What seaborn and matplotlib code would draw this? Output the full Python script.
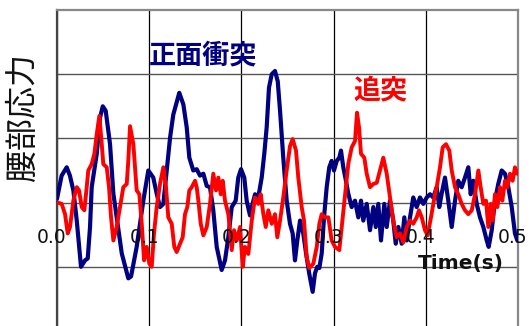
import matplotlib
matplotlib.use("Agg")
import matplotlib.pyplot as plt
import matplotlib.transforms as mtransforms
import seaborn as sns
import pandas as pd

# Time (s) and lumbar stress for the frontal-impact case
frontal_t = [0.000, 0.005, 0.0105, 0.014, 0.0177, 0.0214, 0.026, 0.0304, 0.0333, 0.0358,
             0.0376, 0.0431, 0.0466, 0.0496, 0.0528, 0.0575, 0.0611, 0.0647, 0.0702, 0.0773,
             0.0803, 0.0864, 0.0936, 0.099, 0.1044, 0.1081, 0.1117, 0.1153, 0.119, 0.1226,
             0.1261, 0.1326, 0.137, 0.1407, 0.1435, 0.1478, 0.1515, 0.1551, 0.1587, 0.1624,
             0.1659, 0.1695, 0.1732, 0.1786, 0.1822, 0.1858, 0.1895, 0.1938, 0.1966, 0.1996,
             0.2031, 0.2057, 0.2093, 0.2112, 0.2148, 0.2183, 0.222, 0.2248, 0.2274, 0.2299,
             0.2329, 0.2364, 0.2394, 0.2419, 0.2454, 0.2491, 0.2527, 0.2556, 0.2581, 0.2606,
             0.2636, 0.2671, 0.2701, 0.2736, 0.2773, 0.2798, 0.2823, 0.2845, 0.2871, 0.2896,
             0.2925, 0.2953, 0.2979, 0.3004, 0.3034, 0.3062, 0.308, 0.3105, 0.3134, 0.3159,
             0.3196, 0.3232, 0.3268, 0.3297, 0.3322, 0.3359, 0.3395, 0.3431, 0.3457, 0.3485,
             0.3514, 0.355, 0.3576, 0.3612, 0.3647, 0.3674, 0.3702, 0.3739, 0.3767, 0.3793,
             0.3829, 0.3864, 0.3901, 0.3937, 0.3973, 0.401, 0.4046, 0.4081, 0.4118, 0.4146,
             0.4172, 0.4208, 0.4244, 0.4281, 0.4317, 0.4352, 0.4389, 0.4425, 0.4461, 0.4487,
             0.4515, 0.4552, 0.4588, 0.4624, 0.4661, 0.4682, 0.4715, 0.475, 0.4786, 0.4823,
             0.4859, 0.4895, 0.4932, 0.4967, 0.4993]
frontal_s = [0.06, 0.42, 0.55, 0.42, 0.19, -0.28, -1.00, -0.90, -0.87, -0.38,
             0.24, 0.76, 1.32, 1.50, 1.43, 0.91, 0.14, -0.23, -0.79, -1.18,
             -1.15, -0.69, 0.03, 0.50, 0.39, 0.14, -0.07, -0.02, 0.50, 1.01,
             1.37, 1.71, 1.53, 1.17, 0.70, 0.50, 0.52, 0.42, 0.45, 0.26,
             0.24, -0.12, -0.69, -1.05, -0.90, -0.54, -0.07, 0.03, 0.39, 0.52,
             0.39, 0.03, -0.20, -0.07, 0.13, 0.08, 0.39, 0.76, 1.17, 1.79,
             2.00, 2.05, 1.89, 1.43, 0.70, 0.03, -0.33, -0.48, -0.90, -0.59,
             -0.28, -0.48, -0.79, -1.11, -1.39, -1.10, -1.00, -1.02, -0.79, -0.23,
             0.24, 0.55, 0.65, 0.50, 0.65, 0.70, 0.81, 0.55, 0.34, 0.14,
             -0.07, 0.03, -0.23, 0.03, -0.28, -0.02, -0.43, -0.07, -0.38, -0.02,
             -0.59, -0.02, -0.38, 0.03, -0.28, -0.64, -0.38, -0.64, -0.23, -0.59,
             -0.23, 0.08, -0.07, 0.08, -0.02, 0.08, 0.13, 0.08, 0.24, -0.07,
             0.14, 0.39, 0.03, -0.38, 0.03, 0.34, 0.24, 0.39, 0.55, 0.13,
             0.34, -0.02, -0.23, -0.38, -0.59, -0.69, -0.43, 0.03, 0.29, 0.50,
             0.45, 0.24, -0.07, -0.48, -0.59]

# Time (s) and lumbar stress for the rear-impact case
rear_t = [0.0008, 0.0051, 0.0087, 0.0116, 0.0141, 0.0177, 0.0214, 0.0239, 0.0268, 0.0296,
          0.0322, 0.0339, 0.0376, 0.0405, 0.0431, 0.0459, 0.0485, 0.0502, 0.0539, 0.0564,
          0.0586, 0.0611, 0.0647, 0.0683, 0.0719, 0.0756, 0.0773, 0.0792, 0.0828, 0.0864,
          0.0893, 0.0919, 0.0944, 0.0973, 0.1001, 0.1027, 0.1052, 0.1081, 0.1117, 0.1153,
          0.1182, 0.1207, 0.1244, 0.1272, 0.1298, 0.1334, 0.1363, 0.1388, 0.1413, 0.1435,
          0.1461, 0.1497, 0.1515, 0.1533, 0.1559, 0.1587, 0.1624, 0.1659, 0.1695, 0.1725,
          0.175, 0.1776, 0.1797, 0.1822, 0.1858, 0.1895, 0.192, 0.1949, 0.1985, 0.2014,
          0.2039, 0.2075, 0.2112, 0.2148, 0.2183, 0.2209, 0.2238, 0.2264, 0.2292, 0.2329,
          0.2364, 0.2389, 0.2419, 0.2454, 0.2491, 0.2527, 0.2556, 0.2592, 0.2617, 0.2654,
          0.2679, 0.2708, 0.2736, 0.278, 0.2817, 0.2845, 0.2871, 0.2907, 0.2943, 0.2979,
          0.3015, 0.3062, 0.3088, 0.3124, 0.3159, 0.3196, 0.3232, 0.3254, 0.3276, 0.3297,
          0.3333, 0.3359, 0.3395, 0.3431, 0.3468, 0.3503, 0.3539, 0.3576, 0.3612, 0.3647,
          0.3684, 0.372, 0.3756, 0.3793, 0.3829, 0.3864, 0.3901, 0.3926, 0.3956, 0.3991,
          0.402, 0.4056, 0.41, 0.4118, 0.4154, 0.4183, 0.4219, 0.4255, 0.4281, 0.4317,
          0.4352, 0.4389, 0.4425, 0.4461, 0.4498, 0.4534, 0.457, 0.4595, 0.4624, 0.4653,
          0.4678, 0.4704, 0.4726, 0.475, 0.4776, 0.4805, 0.483, 0.4859, 0.4884, 0.4913,
          0.4942, 0.4967, 0.4993]
rear_s = [0.00, -0.02, -0.18, -0.48, -0.38, 0.03, 0.24, 0.19, -0.07, -0.12,
          0.24, 0.50, 0.60, 0.76, 1.07, 1.35, 0.91, 0.60, 0.55, 0.24,
          -0.23, -0.59, -0.38, -0.07, 0.24, 0.29, 0.65, 1.19, 0.91, 0.19,
          0.13, -0.33, -0.90, -0.69, -0.95, -1.00, -0.48, -0.07, 0.29, 0.55,
          0.24, -0.23, -0.33, -0.69, -0.77, -0.64, -0.54, -0.18, -0.07, 0.19,
          0.24, 0.34, 0.24, 0.03, -0.33, -0.51, -0.38, -0.02, 0.45, 0.19,
          0.39, 0.13, 0.34, 0.03, -0.18, -0.74, -0.43, -0.59, -0.38, -1.00,
          -0.69, -0.80, -0.28, 0.08, -0.02, 0.13, -0.18, -0.38, -0.12, -0.33,
          -0.18, -0.54, -0.28, 0.08, 0.50, 0.88, 0.99, 0.81, 0.39, -0.07,
          -0.28, -0.85, -1.02, -0.95, -0.69, -0.33, -0.18, -0.23, -0.23, -0.59,
          -0.69, -0.74, -0.38, 0.13, 0.60, 0.86, 0.96, 1.40, 1.17, 0.76,
          0.70, 0.45, 0.24, 0.29, 0.31, 0.50, 0.70, 0.45, 0.08, -0.28,
          -0.54, -0.48, -0.62, -0.38, -0.28, -0.33, -0.23, -0.12, -0.23, -0.43,
          -0.51, -0.23, 0.13, 0.24, 0.55, 0.86, 0.91, 0.81, 0.50, 0.24,
          0.13, -0.02, -0.12, -0.18, -0.12, 0.13, 0.50, 0.24, -0.02, 0.03,
          -0.38, -0.02, -0.28, 0.13, -0.07, 0.24, 0.03, 0.34, 0.24, 0.45,
          0.34, 0.55, 0.45]

x_ticks = [0.0, 0.1, 0.2, 0.3, 0.4, 0.5]
x_tick_labels = ["0.0", "0.1", "0.2", "0.3", "0.4", "0.5"]
y_grid = [-1, 0, 1, 2]

y_label = "腰部応力"
x_label = "Time(s)"
frontal_name = "正面衝突"
rear_name = "追突"

NAVY = "#000080"
RED = "#FF0000"

sns.set_style("white")
plt.rcParams["font.family"] = ["Noto Sans CJK JP", "DejaVu Sans"]

fig = plt.figure(figsize=(5.29, 3.26), dpi=100)
ax = fig.add_axes([0.1078, -0.0153, 0.8714, 0.9846])

frontal = pd.DataFrame({"t": frontal_t, "s": frontal_s})
rear = pd.DataFrame({"t": rear_t, "s": rear_s})

sns.lineplot(data=frontal, x="t", y="s", color=NAVY, linewidth=3.0,
             estimator=None, sort=False, ax=ax, zorder=3)
sns.lineplot(data=rear, x="t", y="s", color=RED, linewidth=2.8,
             estimator=None, sort=False, ax=ax, zorder=4)

ax.set_xlim(0, 0.5)
ax.set_ylim(-2, 3)
ax.set_xticks(x_ticks)
ax.set_yticks(y_grid)
ax.set_xticklabels([])
ax.set_yticklabels([])
ax.tick_params(length=0)
ax.set_xlabel("")
ax.set_ylabel("")
ax.grid(True, axis="x", color="#000000", linewidth=0.9)
ax.grid(True, axis="y", color="#555555", linewidth=1.0)
ax.set_axisbelow(True)

for side in ("top", "right"):
    ax.spines[side].set_color("#888888")
    ax.spines[side].set_linewidth(1.6)
ax.spines["left"].set_color("#444444")
ax.spines["left"].set_linewidth(1.6)
ax.spines["bottom"].set_visible(False)

# tick labels sit just below the zero line, nudged slightly left
shift = mtransforms.ScaledTranslation(-5 / 100, 0, fig.dpi_scale_trans)
for xv, lab in zip(x_ticks, x_tick_labels):
    ax.text(xv, -0.55, lab, transform=ax.transData + shift, ha="center", va="center",
            fontsize=13.5, family="DejaVu Sans", color="#111111", zorder=5)

ax.text(0.4845, -0.95, x_label, ha="right", va="center", fontsize=14.5,
        fontweight="bold", family="DejaVu Sans", color="#111111", zorder=5)

fig.text(22.5 / 529, 1 - 117 / 326, y_label, rotation=90, ha="center", va="center",
         fontsize=23, color="#111111")

ax.text(0.1585, 2.30, frontal_name, ha="center", va="center", fontsize=19.5,
        fontweight="bold", color=NAVY, zorder=5)
ax.text(0.3505, 1.74, rear_name, ha="center", va="center", fontsize=19.5,
        fontweight="bold", color=RED, zorder=5)

fig.savefig("out.png", dpi=100)
